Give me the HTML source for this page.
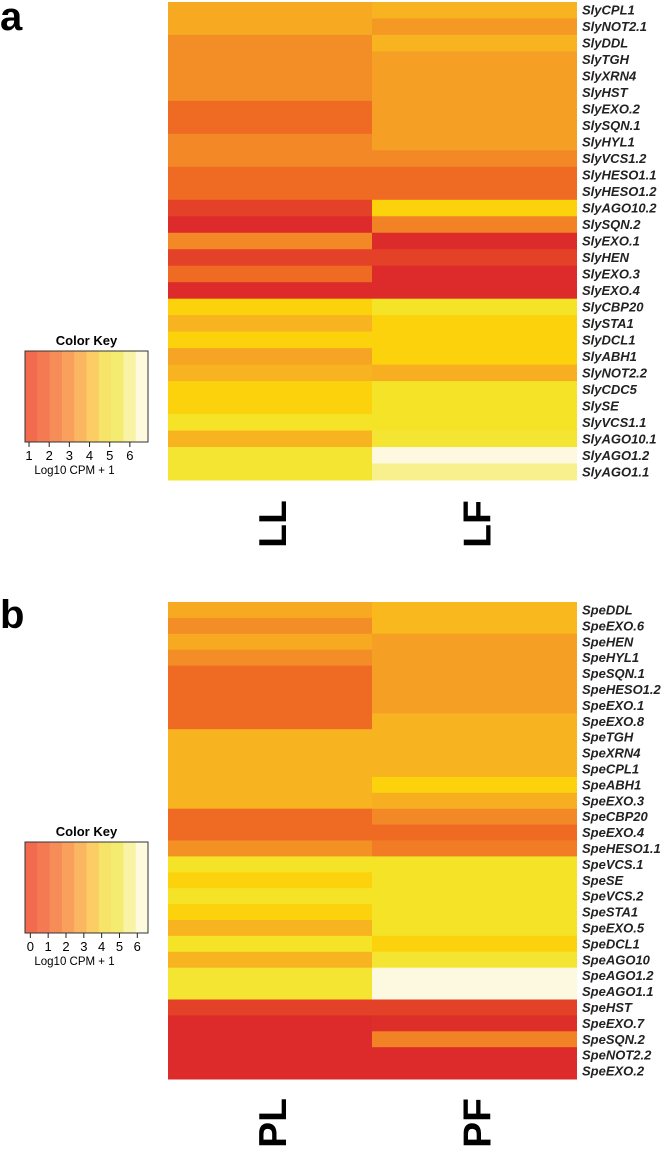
<!DOCTYPE html>
<html><head><meta charset="utf-8">
<style>
html,body{margin:0;padding:0;background:#fff;}
svg{display:block;font-family:"Liberation Sans",Arial,sans-serif;}
</style></head>
<body>
<svg id="fig" width="666" height="1150" viewBox="0 0 666 1150"></svg>
<script>
const genesA = ["SlyCPL1","SlyNOT2.1","SlyDDL","SlyTGH","SlyXRN4","SlyHST","SlyEXO.2","SlySQN.1","SlyHYL1","SlyVCS1.2","SlyHESO1.1","SlyHESO1.2","SlyAGO10.2","SlySQN.2","SlyEXO.1","SlyHEN","SlyEXO.3","SlyEXO.4","SlyCBP20","SlySTA1","SlyDCL1","SlyABH1","SlyNOT2.2","SlyCDC5","SlySE","SlyVCS1.1","SlyAGO10.1","SlyAGO1.2","SlyAGO1.1"];
const valuesLL = [4,4,3.4,3.4,3.4,3.4,2.8,2.8,3.3,3.3,2.8,2.8,1.6,1,3.3,1.6,2.8,1,4.8,4.2,4.8,3.9,4.2,4.8,4.8,5.2,4.2,5.3,5.3];
const valuesLF = [4.2,3.7,4.2,3.8,3.8,3.8,3.8,3.8,3.8,3.3,2.8,2.8,4.8,3.2,1,1.6,1,1,5.2,4.8,4.8,4.8,4.1,5.2,5.2,5.2,5.3,6.8,6];
const genesB = ["SpeDDL","SpeEXO.6","SpeHEN","SpeHYL1","SpeSQN.1","SpeHESO1.2","SpeEXO.1","SpeEXO.8","SpeTGH","SpeXRN4","SpeCPL1","SpeABH1","SpeEXO.3","SpeCBP20","SpeEXO.4","SpeHESO1.1","SpeVCS.1","SpeSE","SpeVCS.2","SpeSTA1","SpeEXO.5","SpeDCL1","SpeAGO10","SpeAGO1.2","SpeAGO1.1","SpeHST","SpeEXO.7","SpeSQN.2","SpeNOT2.2","SpeEXO.2"];
const valuesPL = [4,3.4,4,3.4,2.8,2.8,2.8,2.8,4.2,4.2,4.2,4.2,4.2,2.8,2.8,3.5,5.2,4.8,5.2,4.8,4.2,5.2,4.2,5.3,5.3,1.6,1,1,1,1];
const valuesPF = [4.3,4.3,3.8,3.8,3.8,3.8,3.8,4.2,4.2,4.2,4.2,4.8,4.1,3.3,2.8,3.1,5.2,5.2,5.2,5.2,5.2,4.8,5.3,6.8,6.8,1.6,1.1,3.2,1,1];
const keyTicksA = [1,2,3,4,5,6];
const keyTicksB = [0,1,2,3,4,5,6];

const svg = document.getElementById('fig');
const NS = 'http://www.w3.org/2000/svg';
function mk(tag, attrs, parent){const e=document.createElementNS(NS,tag);for(const k in attrs)e.setAttribute(k,attrs[k]);(parent||svg).appendChild(e);return e;}

const stops=[[1,[221,42,42]],[1.6,[227,65,40]],[2.8,[239,107,36]],[3.3,[242,136,38]],[3.8,[245,159,36]],[4.2,[248,179,32]],[4.8,[251,210,12]],[5.2,[244,227,38]],[6,[248,240,140]],[6.8,[253,248,224]]];
function color(v){
  if(v<=stops[0][0])return 'rgb('+stops[0][1]+')';
  for(let i=1;i<stops.length;i++){if(v<=stops[i][0]){const a=stops[i-1],b=stops[i];const t=(v-a[0])/(b[0]-a[0]);return 'rgb('+a[1].map((c,j)=>Math.round(c+(b[1][j]-c)*t)).join(',')+')';}}
  return 'rgb('+stops[stops.length-1][1]+')';
}
function keyColor(t){
  const pal=[[242,107,79],[244,122,84],[246,140,88],[248,160,92],[250,182,96],[252,205,100],[246,228,104],[243,236,112],[249,243,165],[253,250,222]];
  const i=Math.min(pal.length-1,Math.floor(t*pal.length));return 'rgb('+pal[i]+')';
}

function panel(letter, ly, genes, v1, v2, top, bottom, c1, c2, keyTop, ticks, tmin, tmax){
  const t=mk('text',{x:0,y:ly,'font-size':40,'font-weight':'bold'});t.textContent=letter;
  
  
  const x0=168,xm=372,x1=577;
  const rh=(bottom-top)/genes.length;
  const yRow=i=>top+i*rh;
  genes.forEach((g,i)=>{
    const r1=mk('rect',{x:x0,y:yRow(i),width:xm-x0,height:rh+0.5,fill:color(v1[i])});
    
    
    const r2=mk('rect',{x:xm,y:yRow(i),width:x1-xm,height:rh+0.5,fill:color(v2[i])});
    
    
    const tx=mk('text',{x:582,y:yRow(i)+rh/2+4.5,'font-size':13,'font-weight':'bold','font-style':'italic',fill:'#222'});
    tx.textContent=g;
    
    
  });
  [[c1,(x0+xm)/2+2],[c2,(xm+x1)/2+2]].forEach(([c,cx])=>{
    const lt=mk('text',{x:0,y:0,'font-size':39,'font-weight':'bold','text-anchor':'middle',transform:'translate('+(cx+14)+','+(bottom+44)+') rotate(-90)'});
    lt.textContent=c;
    
    
  });
  const kx0=25,kx1=148,ky0=keyTop,ky1=keyTop+91;
  const kt=mk('text',{x:(kx0+kx1)/2,y:ky0-6,'font-size':13,'font-weight':'bold','text-anchor':'middle'});
  kt.textContent='Color Key';
  
  
  const n=20;
  for(let i=0;i<n;i++){
    const r=mk('rect',{x:kx0+i*(kx1-kx0)/n,y:ky0,width:(kx1-kx0)/n+0.5,height:ky1-ky0,fill:keyColor(i/n)});
    
    
  }
  const box=mk('rect',{x:kx0,y:ky0,width:kx1-kx0,height:ky1-ky0,fill:'none',stroke:'#333','stroke-width':1});
  
  
  const kxs=v=>kx0+(v-tmin)/(tmax-tmin)*(kx1-kx0);
  ticks.forEach(v=>{
    mk('line',{x1:kxs(v),x2:kxs(v),y1:ky1,y2:ky1+5,stroke:'#222','stroke-width':1});
    const tl=mk('text',{x:kxs(v),y:ky1+18,'font-size':13,'text-anchor':'middle'});
    tl.textContent=v;
    
    
  });
  const kl=mk('text',{x:(kx0+kx1)/2-12,y:ky1+32,'font-size':11.5,'text-anchor':'middle'});
  kl.textContent='Log10 CPM + 1';
  
  
}
panel('a',30,genesA,valuesLL,valuesLF,2,480,'LL','LF',351,keyTicksA,0.8,6.9);
panel('b',628,genesB,valuesPL,valuesPF,602,1079,'PL','PF',842,keyTicksB,-0.3,6.6);
</script>
</body></html>
